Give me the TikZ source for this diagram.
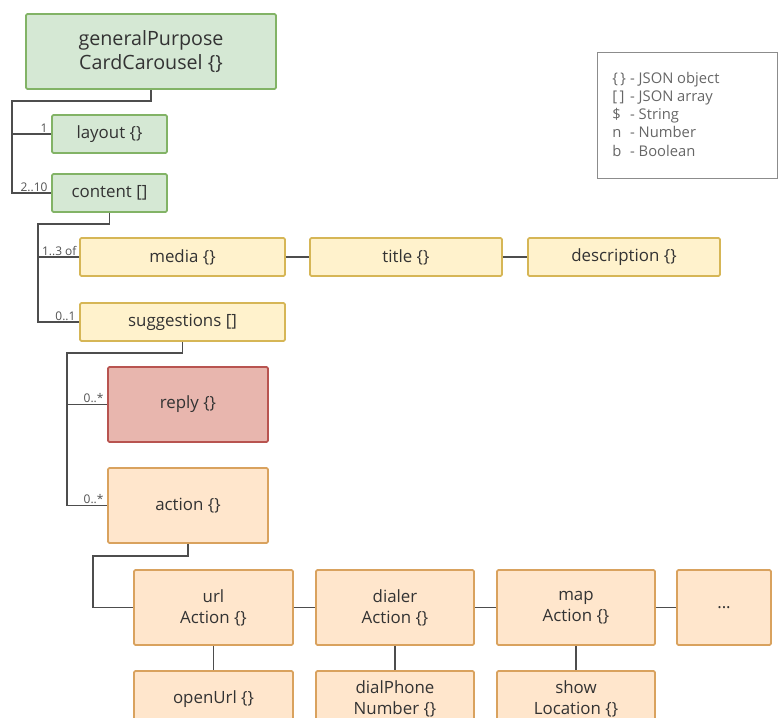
\documentclass[tikz,border=0pt]{standalone}
\usepackage{fontspec}
\setmainfont{Open Sans}
\newlength\px
\setlength\px{0.025cm}
\definecolor{grnfill}{HTML}{D5E8D4}
\definecolor{grnline}{HTML}{82B366}
\definecolor{ylwfill}{HTML}{FFF2CC}
\definecolor{ylwline}{HTML}{D6B656}
\definecolor{redfill}{HTML}{E8B6AE}
\definecolor{redline}{HTML}{B85450}
\definecolor{orgfill}{HTML}{FFE6CC}
\definecolor{orgline}{HTML}{D9A25E}
\definecolor{wire}{HTML}{4D4D4D}
\definecolor{ink}{HTML}{333333}
\begin{document}
\begin{tikzpicture}[x=1\px,y=-1\px,
    box/.style={draw,line width=1.2pt,rounded corners=1pt,align=center,text=ink,
        font=\fontsize{12}{15}\selectfont,inner sep=0pt},
    grn/.style={box,fill=grnfill,draw=grnline},
    ylw/.style={box,fill=ylwfill,draw=ylwline,minimum height=38\px},
    red/.style={box,fill=redfill,draw=redline,minimum width=160\px,minimum height=75\px},
    org/.style={box,fill=orgfill,draw=orgline,minimum height=75\px},
    mult/.style={anchor=south east,text=ink!85,font=\fontsize{8.5}{10}\selectfont,inner sep=1pt},
    wire/.style={draw=wire,line width=1.4pt}]
    \useasboundingbox (0,0) rectangle (779,718);
    \clip (0,0) rectangle (779,718);
    % root and first level
    \node[grn,minimum width=250\px,minimum height=75\px,font=\fontsize{14}{16.5}\selectfont](gpcc) at (151,51.5){generalPurpose\\CardCarousel \{\}};
    \node[grn,minimum width=115\px,minimum height=38\px](layout) at (109.5,134){layout \{\}};
    \node[grn,minimum width=115\px,minimum height=38\px](content) at (109.5,193){content []};
    % content items
    \node[ylw,minimum width=205\px](media) at (182.5,257){media \{\}};
    \node[ylw,minimum width=192\px](title) at (406,257){title \{\}};
    \node[ylw,minimum width=192\px](description) at (624,257){description \{\}};
    \node[ylw,minimum width=205\px](suggestions) at (182.5,322){suggestions []};
    % suggestions
    \node[red](reply) at (188,404.5){reply \{\}};
    \node[org,minimum width=160\px](action) at (188,505.5){action \{\}};
    % actions
    \node[org,minimum width=159\px](urlAction) at (213.5,607.5){url\\Action \{\}};
    \node[org,minimum width=158\px](dialerAction) at (395,607.5){dialer\\Action \{\}};
    \node[org,minimum width=158\px](mapAction) at (576,607.5){map\\Action \{\}};
    \node[org,minimum width=94\px](moreAction) at (724,607.5){...};
    \node[org,minimum width=159\px,minimum height=56\px](openUrl) at (213.5,699){openUrl \{\}};
    \node[org,minimum width=158\px,minimum height=56\px](dialPhone) at (395,699){dialPhone\\Number \{\}};
    \node[org,minimum width=158\px,minimum height=56\px](showLocation) at (576,699){show\\Location \{\}};
    % legend
    \node[draw=black!45,line width=0.8pt,minimum width=180\px,minimum height=126\px,anchor=north west,
        inner sep=0pt](legend) at (597,52){};
    \node[anchor=north west,text=black!60,font=\fontsize{10.5}{13}\selectfont,inner sep=0pt](legendtext)
        at (612,70){\begin{tabular}{@{}l@{\hspace{3pt}}l@{}}
        \{\,\} & - JSON object\\
        {[}\,{]} & - JSON array\\
        \$ & - String\\
        n & - Number\\
        b & - Boolean
        \end{tabular}};
    % connectors
    \coordinate (t1) at (12,101);
    \coordinate (t2) at (38,224);
    \coordinate (t3) at (67,353);
    \coordinate (t4) at (93,556);
    \draw[wire](gpcc.south) |- (t1) |- (content.west);
    \draw[wire](t1 |- layout.west) -- (layout.west);
    \draw[wire](content.south) |- (t2) |- (suggestions.west);
    \draw[wire](t2 |- media.west) -- (media.west);
    \draw[wire](suggestions.south) |- (t3) |- (action.west);
    \draw[wire](t3 |- reply.west) -- (reply.west);
    \draw[wire](action.south) |- (t4) |- (urlAction.west);
    \draw[wire](media) -- (title);
    \draw[wire](title) -- (description);
    \draw[wire](urlAction) -- (dialerAction);
    \draw[wire](dialerAction) -- (mapAction);
    \draw[wire](mapAction) -- (moreAction);
    \draw[wire](urlAction) -- (openUrl);
    \draw[wire](dialerAction) -- (dialPhone);
    \draw[wire](mapAction) -- (showLocation);
    % multiplicities
    \node[mult](mLayout) at ([xshift=-2\px]layout.west){1};
    \node[mult](mContent) at ([xshift=-2\px]content.west){2..10};
    \node[mult](mMedia) at ([xshift=-1\px]media.west){1..3 of};
    \node[mult](mSugg) at ([xshift=-2\px]suggestions.west){0..1};
    \node[mult](mReply) at ([xshift=-2\px]reply.west){0..*};
    \node[mult](mAction) at ([xshift=-2\px]action.west){0..*};
\end{tikzpicture}
\end{document}
